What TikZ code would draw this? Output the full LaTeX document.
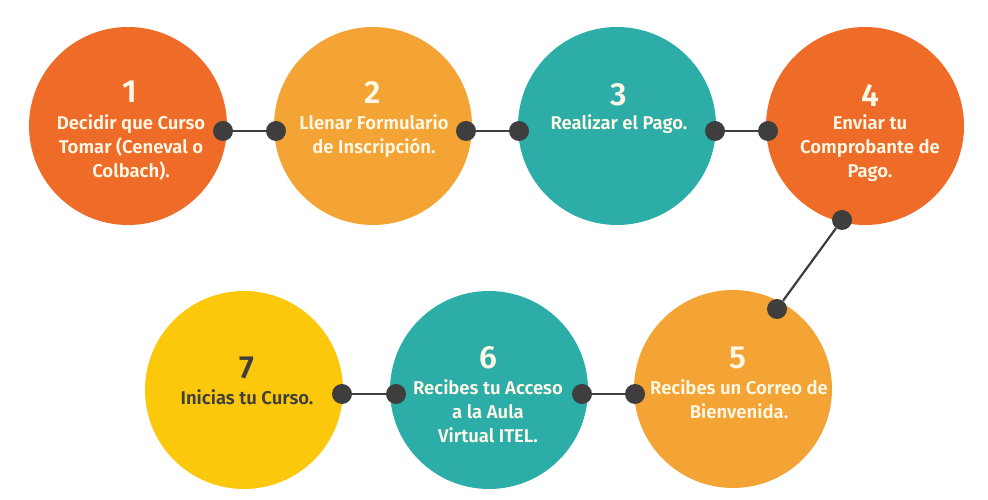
\documentclass[tikz,border=0pt]{standalone}
\usepackage{fontspec}
\setmainfont{Fira Sans}[BoldFont={Fira Sans SemiBold}]
\definecolor{corange}{HTML}{EE6C28}
\definecolor{clight}{HTML}{F4A434}
\definecolor{cteal}{HTML}{2CADA7}
\definecolor{cyellow}{HTML}{FCC80C}
\definecolor{ctext}{HTML}{FFF8E7}
\definecolor{cdark}{HTML}{3E3E3E}
\tikzset{
  stepcircle/.style={circle, minimum size=198pt, inner sep=0pt, draw=none},
  stepnum/.style={inner sep=0pt, font=\fontsize{32}{32}\selectfont\bfseries, text=ctext},
  steptext/.style={inner sep=0pt, anchor=north, align=center, font=\fontsize{18.5}{24}\selectfont\bfseries, text=ctext},
  joint/.style={circle, fill=cdark, minimum size=20pt, inner sep=0pt},
  link/.style={draw=cdark, line width=2.2pt}
}
\begin{document}
\begin{tikzpicture}[x=1pt,y=1pt]
\useasboundingbox (0,0) rectangle (988,500);
% circles
\node[stepcircle, fill=corange] (c1) at (128,374) {};
\node[stepcircle, fill=clight]  (c2) at (373,374) {};
\node[stepcircle, fill=cteal]   (c3) at (617,374) {};
\node[stepcircle, fill=corange] (c4) at (865,374) {};
\node[stepcircle, fill=clight]  (c5) at (733,111) {};
\node[stepcircle, fill=cteal]   (c6) at (489,110) {};
\node[stepcircle, fill=cyellow] (c7) at (244,110) {};
% numbers
\node[stepnum] (n1) at (130,408) {1};
\node[stepnum] (n2) at (373,407) {2};
\node[stepnum] (n3) at (619,405) {3};
\node[stepnum] (n4) at (870,405) {4};
\node[stepnum] (n5) at (738,142) {5};
\node[stepnum] (n6) at (488,142) {6};
\node[stepnum, text=cdark] (n7) at (247,132) {7};
% texts
\node[steptext] (t1) at (131,386) {Decidir que Curso\\Tomar (Ceneval o\\Colbach).};
\node[steptext] (t2) at (374,386) {Llenar Formulario\\de Inscripción.};
\node[steptext] (t3) at (619,386) {Realizar el Pago.};
\node[steptext] (t4) at (870,386) {Enviar tu\\Comprobante de\\Pago.};
\node[steptext] (t5) at (739,121) {Recibes un Correo de\\Bienvenida.};
\node[steptext] (t6) at (488,121) {Recibes tu Acceso\\a la Aula\\Virtual ITEL.};
\node[steptext, text=cdark] (t7) at (247,111) {Inicias tu Curso.};
% joints
\node[joint] (d1r) at (223,369) {};
\node[joint] (d2l) at (276,369) {};
\node[joint] (d2r) at (466,369) {};
\node[joint] (d3l) at (519,369) {};
\node[joint] (d3r) at (715,369) {};
\node[joint] (d4l) at (768,369) {};
\node[joint] (d4b) at (842,280) {};
\node[joint] (d5t) at (777,191) {};
\node[joint] (d5l) at (635,106) {};
\node[joint] (d6r) at (582,106) {};
\node[joint] (d6l) at (396,106) {};
\node[joint] (d7r) at (342,106) {};
% links
\draw[link] (d1r) -- (d2l);
\draw[link] (d2r) -- (d3l);
\draw[link] (d3r) -- (d4l);
\draw[link] (d4b) -- (d5t);
\draw[link] (d5l) -- (d6r);
\draw[link] (d6l) -- (d7r);
\end{tikzpicture}
\end{document}
